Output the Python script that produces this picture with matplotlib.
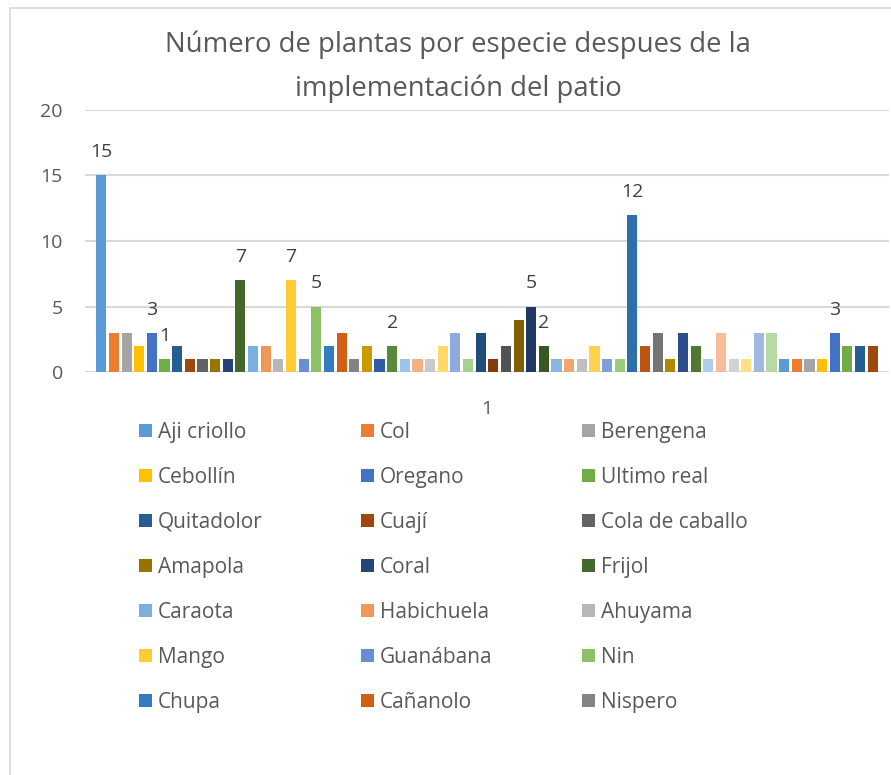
import matplotlib
matplotlib.use("Agg")
import matplotlib.pyplot as plt
from matplotlib.patches import Rectangle

# species named in the legend (the legend only shows the first 21 series)
species = [
    "Aji criollo", "Col", "Berengena",
    "Cebollín", "Oregano", "Ultimo real",
    "Quitadolor", "Cuají", "Cola de caballo",
    "Amapola", "Coral", "Frijol",
    "Caraota", "Habichuela", "Ahuyama",
    "Mango", "Guanábana", "Nin",
    "Chupa", "Cañanolo", "Nispero",
]

# number of plants for each series, left to right
counts = [
    15, 3, 3, 2, 3, 1, 2, 1, 1, 1, 1, 7,
    2, 2, 1, 7, 1, 5, 2, 3, 1, 2, 1, 2,
    1, 1, 1, 2, 3, 1, 3, 1, 2, 4, 5, 2,
    1, 1, 1, 2, 1, 1, 12, 2, 3, 1, 3, 2,
    1, 3, 1, 1, 3, 3, 1, 1, 1, 1, 3, 2,
    2, 2,
]

# series that carry a data label
labeled = [0, 4, 5, 11, 15, 17, 23, 34, 35, 42, 58]

colors = [
    "#5B9BD5", "#ED7D31", "#A5A5A5", "#FFC000", "#4472C4", "#70AD47",
    "#255E91", "#9E480E", "#636363", "#997300", "#264478", "#43682B",
    "#7CAFDD", "#F1975A", "#B7B7B7", "#FFCD33", "#698ED0", "#8CC168",
    "#327DC2", "#D26012", "#848484", "#CC9A00", "#335AA7", "#5A8A39",
    "#9DC3E6", "#F4B183", "#C9C9C9", "#FFD966", "#8FAADC", "#A9D18E",
    "#1F4E79", "#843C0C", "#525252", "#7F6000", "#203864", "#385723",
    "#8AB6E0", "#F0A472", "#BFBFBF", "#FFD34F", "#7F9FD9", "#9CCB80",
    "#2E6EAA", "#BE5412", "#747474", "#B38700", "#2C4C8A", "#4E7A30",
    "#ADCDEB", "#F6BD98", "#D2D2D2", "#FFE083", "#A2B8E2", "#B7D9A3",
    "#5B9BD5", "#ED7D31", "#A5A5A5", "#FFC000", "#4472C4", "#70AD47",
    "#255E91", "#9E480E",
]

title = "Número de plantas por especie despues de la\nimplementación del patio"
category = "1"

plt.rcParams["font.family"] = ["Open Sans", "DejaVu Sans"]
text_color = "#595959"
grid_color = "#D9D9D9"

W, H = 891, 775
fig = plt.figure(figsize=(W / 100, H / 100), dpi=100)

# chart border
fig.patches.append(Rectangle((10 / W, -0.1), 1.0, (H - 8) / H + 0.1,
                             transform=fig.transFigure, fill=False,
                             edgecolor=grid_color, linewidth=1.2))

ax = fig.add_axes([85 / W, (H - 372) / H, 804 / W, 262 / H])

n = len(counts)
xs = list(range(n))
handles = []
for i, (x, v) in enumerate(zip(xs, counts)):
    lbl = species[i] if i < len(species) else "_nolegend_"
    b = ax.bar(x, v, width=0.8, color=colors[i], label=lbl, zorder=3)
    handles.append(b)
    if i in labeled:
        ax.annotate(str(v), (x, v), xytext=(0, 13), textcoords="offset points",
                    ha="center", va="baseline", fontsize=14, color="#404040")

ax.set_ylim(0, 20)
ax.set_yticks([0, 5, 10, 15, 20])
ax.set_xlim(-1.29, n - 1 + 1.29)
ax.set_xticks([(n - 1) / 2])
ax.set_xticklabels([category])
ax.grid(axis="y", color=grid_color, linewidth=1.5, zorder=0)
for s in ax.spines.values():
    s.set_visible(False)
ax.tick_params(axis="both", length=0, colors=text_color, labelsize=14)
ax.tick_params(axis="y", pad=16)
ax.tick_params(axis="x", pad=20)

fig.text(458 / W, 1 - 67 / H, title, ha="center", va="center", fontsize=19.8,
         color=text_color, linespacing=1.7)

# legend: three columns of seven entries
col_x = [139, 361, 582]
for c in range(3):
    hs = [handles[c + 3 * r] for r in range(7)]
    ls = [species[c + 3 * r] for r in range(7)]
    fig.legend(hs, ls, loc="upper left", bbox_to_anchor=(col_x[c] / W, 1 - 422 / H),
               frameon=False, fontsize=15, labelcolor=text_color,
               handlelength=0.6, handleheight=0.6, handletextpad=0.3,
               labelspacing=1.15, borderpad=0, borderaxespad=0)

fig.savefig("out.png", dpi=100)
